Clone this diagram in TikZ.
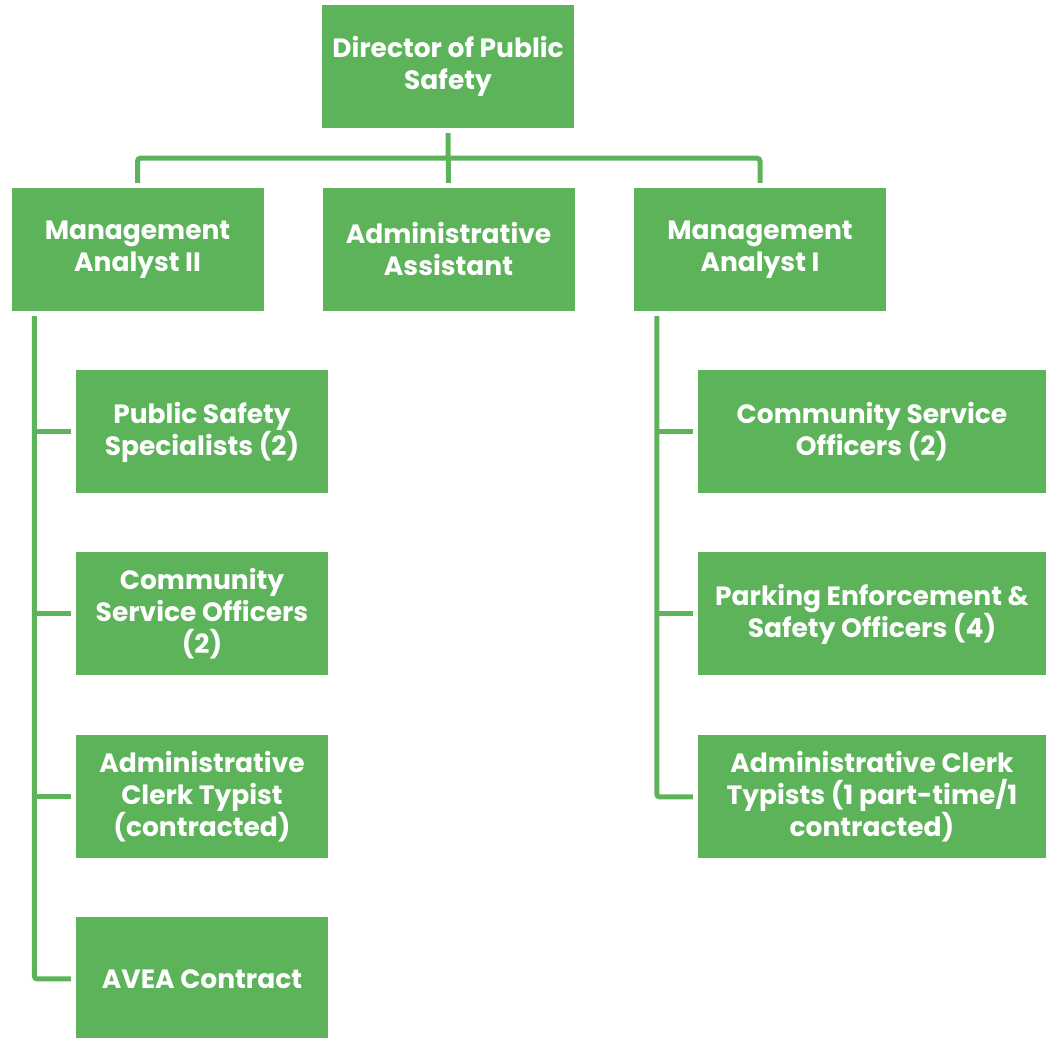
\documentclass[tikz,border=0pt]{standalone}
\usepackage{fontspec}
\setmainfont{Poppins}
\definecolor{boxgreen}{RGB}{92,179,90}
\begin{document}
\begin{tikzpicture}[x=1pt,y=1pt,
  box/.style={fill=boxgreen, draw=none, text=white, align=center,
    font=\fontsize{26.5}{32}\selectfont\bfseries, inner sep=0pt,
    minimum height=123pt},
  nbox/.style={box, minimum width=252pt},
  wbox/.style={box, minimum width=348pt},
  conn/.style={draw=boxgreen, line width=5pt, rounded corners=3pt}]
\useasboundingbox (0,0) rectangle (1047,1038);
\node[nbox] (dir) at (448,971.5) {Director of Public\\Safety};
\node[nbox] (ma2) at (137.5,788.5) {Management\\Analyst II};
\node[nbox] (aa)  at (448.5,788.5) {Administrative\\Assistant};
\node[nbox] (ma1) at (760,788.5) {Management\\Analyst I};
\node[nbox] (l1) at (202,606) {Public Safety\\Specialists (2)};
\node[nbox] (l2) at (202,424) {Community\\Service Officers\\(2)};
\node[nbox] (l3) at (202,241) {Administrative\\Clerk Typist\\(contracted)};
\node[nbox] (l4) at (202,59) {AVEA Contract};
\node[wbox] (r1) at (872,606) {Community Service\\Officers (2)};
\node[wbox] (r2) at (872,424) {Parking Enforcement \&\\Safety Officers (4)};
\node[wbox] (r3) at (872,241) {Administrative Clerk\\Typists (1 part-time/1\\contracted)};
% top connectors
\draw[conn] ([yshift=-5pt]dir.south) -- ([yshift=5pt]aa.north);
\coordinate (hb) at ([yshift=-30pt]dir.south);
\draw[conn] ([yshift=5pt]ma2.north) |- (hb) -| ([yshift=5pt]ma1.north);
% left spine
\coordinate (ls) at ([shift={(23pt,-5pt)}]ma2.south west);
\draw[conn] (ls) |- ([xshift=-5pt]l4.west);
\draw[conn] (ls |- l1.west) -- ([xshift=-5pt]l1.west);
\draw[conn] (ls |- l2.west) -- ([xshift=-5pt]l2.west);
\draw[conn] (ls |- l3.west) -- ([xshift=-5pt]l3.west);
% right spine
\coordinate (rs) at ([shift={(23pt,-5pt)}]ma1.south west);
\draw[conn] (rs) |- ([xshift=-5pt]r3.west);
\draw[conn] (rs |- r1.west) -- ([xshift=-5pt]r1.west);
\draw[conn] (rs |- r2.west) -- ([xshift=-5pt]r2.west);
\end{tikzpicture}
\end{document}
